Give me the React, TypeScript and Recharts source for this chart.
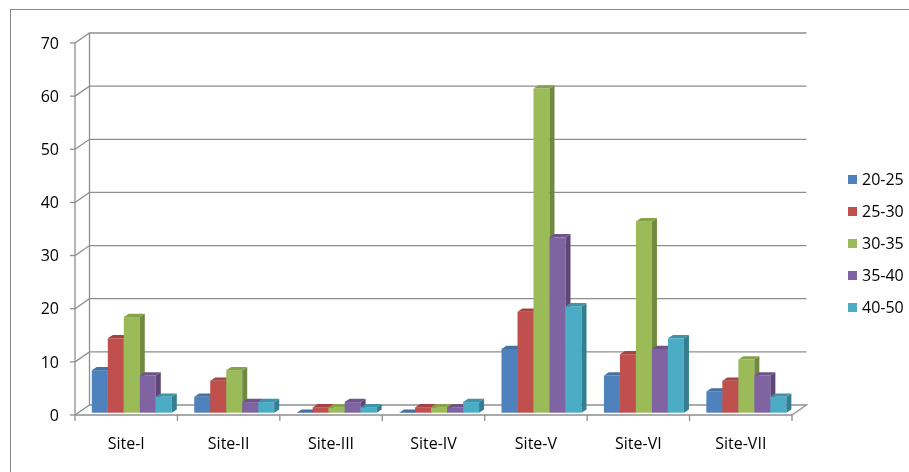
import React from "react";
import { BarChart, Bar, XAxis, YAxis, CartesianGrid } from "recharts";

// sites along the x axis
const sites = ["Site-I", "Site-II", "Site-III", "Site-IV", "Site-V", "Site-VI", "Site-VII"];

// one array per age group
const g20_25 = [8, 3, 0, 0, 12, 7, 4];
const g25_30 = [14, 6, 1, 1, 19, 11, 6];
const g30_35 = [18, 8, 1, 1, 61, 36, 10];
const g35_40 = [7, 2, 2, 1, 33, 12, 7];
const g40_50 = [3, 2, 1, 2, 20, 14, 3];

const yTicks = [0, 10, 20, 30, 40, 50, 60, 70];

const series = [
  { key: "20-25", values: g20_25, front: "#4f81bd", side: "#385d8a", top: "#44719f" },
  { key: "25-30", values: g25_30, front: "#c0504d", side: "#8c3836", top: "#a6423f" },
  { key: "30-35", values: g30_35, front: "#9bbb59", side: "#71893f", top: "#86a34a" },
  { key: "35-40", values: g35_40, front: "#8064a2", side: "#5c4776", top: "#6d5589" },
  { key: "40-50", values: g40_50, front: "#4bacc6", side: "#357d91", top: "#3f94aa" },
];

const data = sites.map((site, i) => {
  const row: Record<string, string | number> = { site };
  series.forEach((s) => (row[s.key] = s.values[i]));
  return row;
});

const FONT = "'Open Sans', sans-serif";
const GRID = "#8e8e8e";
// wall depth (floor / back wall offset) and bar depth
const WX = 14.5;
const WY = 10;
const BX = 4.5;
const BY = -2.3;
const DX = 5;
const DY = 3.3;

function Bar3D(props: any) {
  const { x, y, width, height, front, side, top } = props;
  if (x == null || y == null) return null;
  const fx = x + BX;
  const fy = y + BY;
  const h = Math.max(0, height);
  return (
    <g>
      <rect x={fx} y={fy} width={width} height={h} fill={front} />
      <path
        d={`M${fx + width},${fy} L${fx + width + DX},${fy - DY} L${fx + width + DX},${fy + h - DY} L${fx + width},${fy + h} Z`}
        fill={side}
      />
      <path
        d={`M${fx},${fy} L${fx + width},${fy} L${fx + width + DX},${fy - DY} L${fx + DX},${fy - DY} Z`}
        fill={top}
      />
    </g>
  );
}

function gridLine(p: any) {
  const { x1, x2, y1, index, y, height } = p;
  const bottom = Math.abs(y1 - (y + height)) < 0.5;
  let d = `M${x1},${y1} L${x1 + WX},${y1 - WY} L${x2 + WX},${y1 - WY}`;
  if (bottom) d += ` L${x2},${y1}`;
  return (
    <g key={`grid-${index}`}>
      <path d={d} fill="none" stroke={GRID} strokeWidth={1.3} />
      {index === 0 && (
        <line x1={x1 + WX} y1={y - WY} x2={x1 + WX} y2={y + height - WY} stroke={GRID} strokeWidth={1.3} />
      )}
    </g>
  );
}

function SiteTick(props: any) {
  const { x, y, payload } = props;
  const half = payload.offset || 717 / 14;
  return (
    <g>
      <line x1={x + half} y1={y} x2={x + half} y2={y + 6} stroke={GRID} strokeWidth={1.3} />
      {payload.index === 0 && (
        <line x1={x - half} y1={y} x2={x - half} y2={y + 6} stroke={GRID} strokeWidth={1.3} />
      )}
      <text x={x} y={y + 34} textAnchor="middle" fontFamily={FONT} fontSize={16} fill="#000">
        {payload.value}
      </text>
    </g>
  );
}

export default function App() {
  return (
    <div style={{ position: "fixed", left: 0, top: 0, width: 909, height: 472, overflow: "hidden" }}>
      <div
        style={{
          position: "absolute",
          left: 10,
          top: 9,
          width: 1000,
          height: 1000,
          border: "1px solid #868686",
        }}
      />
      <div style={{ position: "absolute", left: 8, top: 8 }}>
        <BarChart
          width={893}
          height={456}
          data={data}
          margin={{ top: 35, right: 109, left: 0, bottom: 19 }}
          barCategoryGap="12%"
          barGap={0}
        >
          <CartesianGrid vertical={false} horizontal={gridLine} />
          <XAxis
            dataKey="site"
            height={30}
            axisLine={{ stroke: GRID, strokeWidth: 1.3 }}
            tickLine={false}
            tickSize={0}
            tickMargin={0}
            interval={0}
            tick={<SiteTick />}
          />
          <YAxis
            width={67}
            domain={[0, 70]}
            ticks={yTicks}
            interval={0}
            axisLine={{ stroke: GRID, strokeWidth: 1.3 }}
            tickLine={{ stroke: GRID, strokeWidth: 1.3 }}
            tickSize={5}
            tickMargin={11}
            tick={{ fontFamily: FONT, fontSize: 16, fill: "#000" }}
          />
          {series.map((s) => (
            <Bar
              key={s.key}
              dataKey={s.key}
              isAnimationActive={false}
              fill={s.front}
              shape={(p: any) => <Bar3D {...p} front={s.front} side={s.side} top={s.top} />}
            />
          ))}
        </BarChart>
      </div>
      <div style={{ position: "absolute", left: 848, top: 163, fontFamily: FONT, fontSize: 16, color: "#000" }}>
        {series.map((s) => (
          <div key={s.key} style={{ height: 32, display: "flex", alignItems: "center", whiteSpace: "nowrap" }}>
            <span style={{ width: 9, height: 9, background: s.front, marginRight: 5, display: "inline-block" }} />
            {s.key}
          </div>
        ))}
      </div>
    </div>
  );
}
